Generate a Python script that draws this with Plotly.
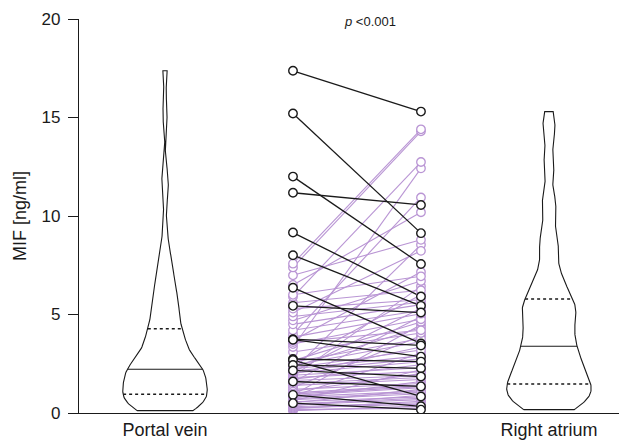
import numpy as np
import plotly.graph_objects as go

# ---- data (ng/ml) ----
categories = ["Portal vein", "Right atrium"]

# pairs that decrease from portal vein to right atrium (black)
pv_down = [17.37, 15.2, 12.0, 11.18, 9.16, 8.01, 6.36, 5.44, 3.75, 3.72, 2.74, 2.69, 2.44, 2.16, 1.6, 0.92, 0.5]
ra_down = [15.3, 9.13, 7.56, 10.56, 5.91, 5.44, 3.53, 5.1, 3.43, 2.86, 2.61, 0.84, 2.27, 1.85, 1.35, 0.34, 0.17]

# pairs that increase (purple)
pv_up = [0.12, 0.17, 0.22, 0.27, 0.32, 0.37, 0.42, 0.47, 0.52, 0.57, 0.62, 0.67, 0.72, 0.77, 0.82, 0.86, 0.89, 0.92,
         0.96, 1.02, 1.1, 1.2, 1.3, 1.4, 1.5, 1.58, 1.65, 1.72, 1.8, 1.86, 1.92, 1.98, 2.03, 2.08, 2.13, 2.19,
         2.25, 2.3, 2.35, 2.42, 2.5, 2.58, 2.66, 3.1, 3.35, 3.5, 3.6, 3.68, 3.85, 4.0, 4.2,
         4.5, 4.7, 4.9, 5.1, 5.3, 5.6, 5.9, 6.0, 6.5, 6.99, 7.39, 7.58]
ra_up = [0.35, 0.25, 0.6, 0.45, 0.52, 0.9, 0.68, 0.75, 1.2, 0.82, 2.2, 0.98, 1.05, 1.6, 1.12, 3.05, 1.28, 4.48,
         1.34, 1.4, 2.0, 1.5, 3.92, 1.7, 1.8, 4.9, 1.9, 2.45, 2.1, 6.43, 2.3, 3.35, 2.6, 5.32, 2.75, 8.54,
         2.9, 3.2, 4.34, 3.62, 6.0, 3.78, 4.62, 4.06, 12.42, 4.76, 4.2, 7.16, 5.04, 10.94, 5.2,
         5.5, 6.7, 5.62, 8.23, 5.75, 6.23, 12.74, 6.94, 10.19, 8.79, 14.3, 14.4]

y_ticks = [0, 5, 10, 15, 20]
p_text = "<i>p</i> &lt;0.001"

PURPLE = "#b995d4"
BLACK = "#1a1a1a"

pv_all = np.array(pv_down + pv_up)
ra_all = np.array(ra_down + ra_up)


def violin_trace(vals, center, bw, half_max, gamma=0.9):
    grid = np.linspace(vals.min(), vals.max(), 300)
    d = np.exp(-0.5 * ((grid[:, None] - vals[None, :]) / bw) ** 2).sum(axis=1)
    w = (d / d.max()) ** gamma * half_max
    xs = np.concatenate([center - w, (center + w)[::-1], [center - w[0]]])
    ys = np.concatenate([grid, grid[::-1], [grid[0]]])
    tr = go.Scatter(x=xs, y=ys, mode="lines", line=dict(color=BLACK, width=1.1),
                    hoverinfo="skip", showlegend=False)
    lines = []
    for q, dash in [(25, "dot"), (50, "solid"), (75, "dot")]:
        qv = np.percentile(vals, q)
        wq = np.interp(qv, grid, w)
        lines.append(go.Scatter(x=[center - wq, center + wq], y=[qv, qv], mode="lines",
                                line=dict(color=BLACK, width=1.1 if dash == "solid" else 1.5, dash=dash),
                                hoverinfo="skip", showlegend=False))
    return [tr] + lines


def pair_xy(a, b):
    xs, ys = [], []
    for u, v in zip(a, b):
        xs += [1, 2, None]
        ys += [u, v, None]
    return xs, ys


fig = go.Figure()
HALF = 0.33
for t in violin_trace(pv_all, 0, 0.65, HALF):
    fig.add_trace(t)
for t in violin_trace(ra_all, 3, 0.62, HALF):
    fig.add_trace(t)

xu, yu = pair_xy(pv_up, ra_up)
fig.add_trace(go.Scatter(x=xu, y=yu, mode="lines", line=dict(color=PURPLE, width=1.1),
                         showlegend=False, hoverinfo="skip"))
xd, yd = pair_xy(pv_down, ra_down)
fig.add_trace(go.Scatter(x=xd, y=yd, mode="lines", line=dict(color=BLACK, width=1.3),
                         showlegend=False, hoverinfo="skip"))

fig.add_trace(go.Scatter(x=[1] * len(pv_up) + [2] * len(ra_up), y=pv_up + ra_up, mode="markers",
                         marker=dict(symbol="circle", size=8.5, color="white",
                                     line=dict(color=PURPLE, width=1.3)), showlegend=False))
fig.add_trace(go.Scatter(x=[1] * len(pv_down) + [2] * len(ra_down), y=pv_down + ra_down, mode="markers",
                         marker=dict(symbol="circle", size=8.5, color="white",
                                     line=dict(color=BLACK, width=1.4)), showlegend=False))

fig.add_annotation(x=1.6, y=1.0, xref="x", yref="paper", yanchor="bottom", yshift=-12,
                   text=p_text, showarrow=False, font=dict(size=13, color=BLACK))

# browser page adds an 8 px body margin: figure sized/offset to compensate
fig.update_layout(
    width=619, height=432,
    margin=dict(l=71, r=0, t=11, b=25),
    plot_bgcolor="white", paper_bgcolor="white",
    font=dict(family="Arial, Liberation Sans, sans-serif", color=BLACK),
    xaxis=dict(range=[-0.672, 3.61], tickmode="array", tickvals=[0, 3], ticktext=categories,
               showgrid=False, zeroline=False, showline=True, linecolor=BLACK, linewidth=1.3,
               ticks="", tickfont=dict(size=18)),
    yaxis=dict(range=[0, 20], tickmode="array", tickvals=y_ticks, showgrid=False, zeroline=False,
               showline=True, linecolor=BLACK, linewidth=1.3, ticks="outside", ticklen=10,
               tickwidth=1.3, tickcolor=BLACK, tickfont=dict(size=17), ticklabelstandoff=4,
               title=dict(text="MIF [ng/ml]", font=dict(size=18), standoff=10)),
)

fig.write_html("out.html")
